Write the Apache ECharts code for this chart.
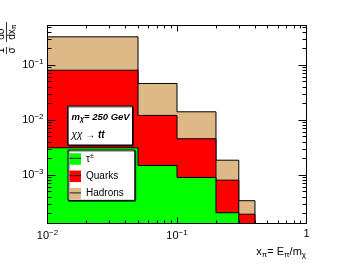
<!DOCTYPE html>
<html><head><meta charset="utf-8">
<script src="https://cdn.jsdelivr.net/npm/echarts@6/dist/echarts.min.js"></script>
<style>html,body{margin:0;padding:0;background:#fff}#c{width:341px;height:264px}</style>
</head><body><div id="c"></div>
<script>
// ---- data ----
const binEdges = [0.01, 0.05, 0.1, 0.2, 0.3, 0.4];
const hadrons = [0.328, 0.0465, 0.0142, 0.00187, 0.000343];   // total (top of stack)
const quarks  = [0.0811, 0.0122, 0.00459, 0.000811, 0.000195];
const taus    = [0.00315, 0.0015, 0.000908, 0.000207, 0.0001];
const legendNames = ['τ±', 'Quarks', 'Hadrons'];
const xRange = [0.01, 1];
const yRange = [1.32e-4, 0.527];
const xMajorTicks = [0.01, 0.1, 1];
const xMinorTicks = [0.02,0.03,0.04,0.05,0.06,0.07,0.08,0.09,0.2,0.3,0.4,0.5,0.6,0.7,0.8,0.9];
const yMajorTicks = [0.001, 0.01, 0.1];
const yMinorTicks = [2e-4,3e-4,4e-4,5e-4,6e-4,7e-4,8e-4,9e-4,2e-3,3e-3,4e-3,5e-3,6e-3,7e-3,8e-3,9e-3,0.02,0.03,0.04,0.05,0.06,0.07,0.08,0.09,0.2,0.3,0.4,0.5];

const font = 'Liberation Sans, Arial, Helvetica, sans-serif';
const rich = {
  b: {fontSize: 11, fontFamily: font, color: '#000'},
  s: {fontSize: 8, fontFamily: font, color: '#000', padding: [0, 0, 7, 0]}
};
function expLabel(v) {
  const e = Math.round(Math.log10(v));
  if (e === 0) return '{b|1}';
  return '{b|10}{s|' + (e < 0 ? '\u2212' : '') + Math.abs(e) + '}';
}
function axis(dim, pos, ticks, len, showLabel, showLine) {
  const range = dim === 'x' ? xRange : yRange;
  return {
    type: 'log', logBase: 10, min: range[0], max: range[1], position: pos, z: 10,
    axisLine: {show: showLine, onZero: false, lineStyle: {color: '#000', width: 1}},
    axisTick: {show: true, inside: true, length: len, customValues: ticks, lineStyle: {color: '#000', width: 1}},
    axisLabel: showLabel ? {show: true, customValues: ticks, formatter: expLabel, rich: rich, margin: dim === 'x' ? 5 : 4} : {show: false},
    splitLine: {show: false}, minorTick: {show: false}
  };
}
function makeSeries(name, vals, color) {
  return {
    type: 'custom', name: name, xAxisIndex: 0, yAxisIndex: 0, clip: true,
    itemStyle: {color: color},
    encode: {x: [0, 1], y: 2},
    data: vals.map((v, i) => [binEdges[i], binEdges[i + 1], v]),
    renderItem: function (params, api) {
      const i = params.dataIndex;
      const x0 = api.value(0), x1 = api.value(1), v = api.value(2);
      const prev = i > 0 ? vals[i - 1] : yRange[0];
      const pTL = api.coord([x0, v]);
      const pTR = api.coord([x1, v]);
      const yBot = api.coord([x0, yRange[0]])[1];
      const yPrev = api.coord([x0, prev])[1];
      const pts = [[pTL[0], yPrev], pTL, pTR];
      if (i === vals.length - 1) pts.push([pTR[0], yBot]);
      return {
        type: 'group',
        children: [
          {type: 'rect', shape: {x: pTL[0], y: pTL[1], width: pTR[0] - pTL[0], height: yBot - pTL[1]}, style: {fill: color}},
          {type: 'polyline', shape: {points: pts}, style: {stroke: '#000', fill: null, lineWidth: 1}}
        ]
      };
    }
  };
}

const chart = echarts.init(document.getElementById('c'), null, {renderer: 'canvas'});
chart.setOption({
  animation: false,
  backgroundColor: '#fff',
  grid: {left: 47.5, right: 34.5, top: 25.5, bottom: 40.5},
  xAxis: [
    axis('x', 'bottom', xMajorTicks, 6, true, true),
    axis('x', 'bottom', xMinorTicks, 3, false, false),
    axis('x', 'top', xMajorTicks, 6, false, true),
    axis('x', 'top', xMinorTicks, 3, false, false)
  ],
  yAxis: [
    axis('y', 'left', yMajorTicks, 8, true, true),
    axis('y', 'left', yMinorTicks, 4, false, false),
    axis('y', 'right', yMajorTicks, 8, false, true),
    axis('y', 'right', yMinorTicks, 4, false, false)
  ],
  legend: {
    data: legendNames, orient: 'vertical', left: 68, top: 150,
    icon: 'rect', itemWidth: 11.5, itemHeight: 11.5, itemGap: 5.8,
    padding: [2.5, 11, 1, 1.5],
    backgroundColor: '#fff', borderColor: '#000', borderWidth: 1,
    shadowColor: 'rgba(0,0,0,0.6)', shadowOffsetX: 1, shadowOffsetY: 1, shadowBlur: 0.1,
    textStyle: {fontSize: 10, fontFamily: font, color: '#000',
      rich: {n: {fontSize: 10, fontFamily: font, color: '#000'}, s: {fontSize: 7, fontFamily: font, color: '#000', padding: [0, 0, 6, 0]}}},
    formatter: function (name) { return name === 'τ±' ? '{n|τ}{s|±}' : name; }
  },
  series: [
    makeSeries('Hadrons', hadrons, '#deb887'),
    makeSeries('Quarks', quarks, '#ff0000'),
    makeSeries('τ±', taus, '#00ff00')
  ],
  graphic: [
    // info box
    {type: 'rect', z: 50, shape: {x: 67.5, y: 106, width: 65, height: 39},
      style: {fill: '#fff', stroke: '#000', lineWidth: 1, shadowColor: 'rgba(0,0,0,0.6)', shadowOffsetX: 1, shadowOffsetY: 1, shadowBlur: 0.1}},
    {type: 'text', z: 51, x: 71.5, y: 117, style: {
      text: '{bi|m}{sub|χ}{bi|= 250 GeV}', verticalAlign: 'middle',
      rich: {bi: {fontSize: 9.5, fontWeight: 'bold', fontStyle: 'italic', fontFamily: font, fill: '#000'},
             sub: {fontSize: 7, fontWeight: 'bold', fontStyle: 'italic', fontFamily: font, fill: '#000', padding: [5, 0, 0, 0]}}}},
    {type: 'text', z: 51, x: 71.5, y: 135, style: {
      text: '{i|χχ}{n| → }{bi|tt}', verticalAlign: 'middle',
      rich: {i: {fontSize: 10, fontStyle: 'italic', fontFamily: font, fill: '#000'},
             n: {fontSize: 10, fontFamily: font, fill: '#000'},
             bi: {fontSize: 10, fontWeight: 'bold', fontStyle: 'italic', fontFamily: font, fill: '#000'}}}},
    // legend swatch lines
    {type: 'line', z: 100, shape: {x1: 69.5, y1: 158.3, x2: 81, y2: 158.3}, style: {stroke: '#222', lineWidth: 1}},
    {type: 'line', z: 100, shape: {x1: 69.5, y1: 175.6, x2: 81, y2: 175.6}, style: {stroke: '#222', lineWidth: 1}},
    {type: 'line', z: 100, shape: {x1: 69.5, y1: 192.9, x2: 81, y2: 192.9}, style: {stroke: '#222', lineWidth: 1}},
    // x axis title
    {type: 'text', z: 51, x: 306, y: 252, style: {
      text: '{n|x}{sub|π}{n|= E}{sub|π}{n|/m}{sub|χ}', align: 'right', verticalAlign: 'middle',
      rich: {n: {fontSize: 11, fontFamily: font, fill: '#000'},
             sub: {fontSize: 8, fontFamily: font, fill: '#000', padding: [5, 0, 0, 0]}}}},
    // y axis title (rotated)
    {type: 'group', x: 6.5, y: 55, rotation: Math.PI / 2, z: 51, children: [
      {type: 'line', shape: {x1: 1, y1: 0, x2: 8, y2: 0}, style: {stroke: '#000', lineWidth: 0.8}},
      {type: 'text', x: 4.5, y: -0.5, style: {text: '1', fontSize: 10, fontFamily: font, fill: '#000', align: 'center', verticalAlign: 'bottom'}},
      {type: 'text', x: 4.5, y: 0.5, style: {text: 'σ', fontSize: 10, fontFamily: font, fill: '#000', align: 'center', verticalAlign: 'top'}},
      {type: 'line', shape: {x1: 13, y1: 0, x2: 33, y2: 0}, style: {stroke: '#000', lineWidth: 0.8}},
      {type: 'text', x: 21, y: -0.5, style: {text: 'dσ', fontSize: 10, fontFamily: font, fill: '#000', align: 'center', verticalAlign: 'bottom'}},
      {type: 'text', x: 23, y: 0.5, style: {text: '{n|dx}{sub|π}', align: 'center', verticalAlign: 'top',
        rich: {n: {fontSize: 10, fontFamily: font, fill: '#000'}, sub: {fontSize: 7, fontFamily: font, fill: '#000', padding: [4, 0, 0, 0]}}}}
    ]}
  ]
});
</script></body></html>
